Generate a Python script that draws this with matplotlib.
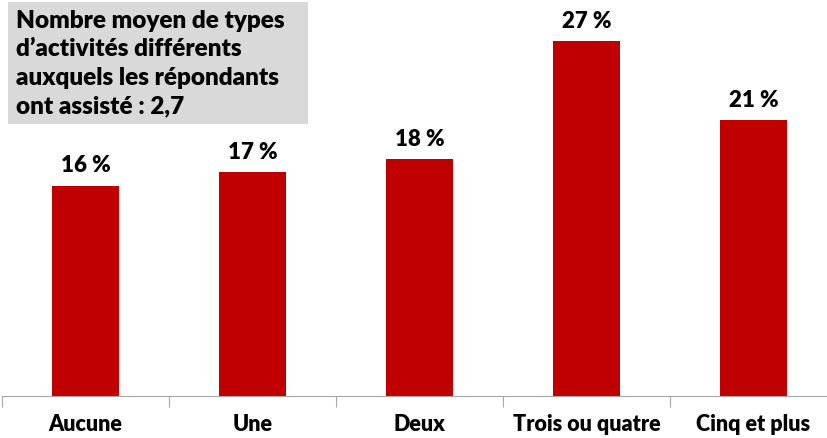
import matplotlib.pyplot as plt
from matplotlib.patches import Rectangle

# Data
categories = ['Aucune', 'Une', 'Deux', 'Trois ou quatre', 'Cinq et plus']
values = [16, 17, 18, 27, 21]
box_text = "Nombre moyen de types\nd’activités différents\nauxquels les répondants\nont assisté : 2,7"

plt.rcParams['font.family'] = ['Lato', 'DejaVu Sans']

fig = plt.figure(figsize=(8.28, 4.38), dpi=100)
ax = fig.add_axes([2 / 828, 42 / 438, 835 / 828, 394.5 / 438])

x = range(len(categories))
bars = ax.bar(x, values, width=0.4, color='#C00000')
for b, v in zip(bars, values):
    ax.text(b.get_x() + b.get_width() / 2, v + 0.7, f'{v} %', ha='center', va='bottom',
            fontsize=16, fontweight='heavy', color='black')

ax.set_xlim(-0.5, len(categories) - 0.5)
ax.set_ylim(0, 30)
ax.set_yticks([])
for s in ['top', 'right', 'left']:
    ax.spines[s].set_visible(False)
ax.spines['bottom'].set_color('#A6A6A6')

# tick marks between categories, labels centered
ax.set_xticks([i - 0.5 for i in range(len(categories) + 1)])
ax.set_xticklabels([])
ax.set_xticks(list(x), minor=True)
ax.set_xticklabels(categories, minor=True, fontsize=15.5, fontweight='heavy', color='black')
ax.tick_params(axis='x', which='major', length=8, color='#A6A6A6')
ax.tick_params(axis='x', which='minor', length=0, pad=13)

# gray note box
fig.patches.append(Rectangle((8 / 828, 1 - 124 / 438), 300 / 828, 122 / 438,
                             transform=fig.transFigure, facecolor='#D9D9D9', edgecolor='none'))
fig.text(16 / 828, 1 - 10 / 438, box_text, ha='left', va='top', fontsize=17.5,
         fontweight='heavy', color='black', linespacing=1.36)

fig.savefig('out.png', dpi=100)
